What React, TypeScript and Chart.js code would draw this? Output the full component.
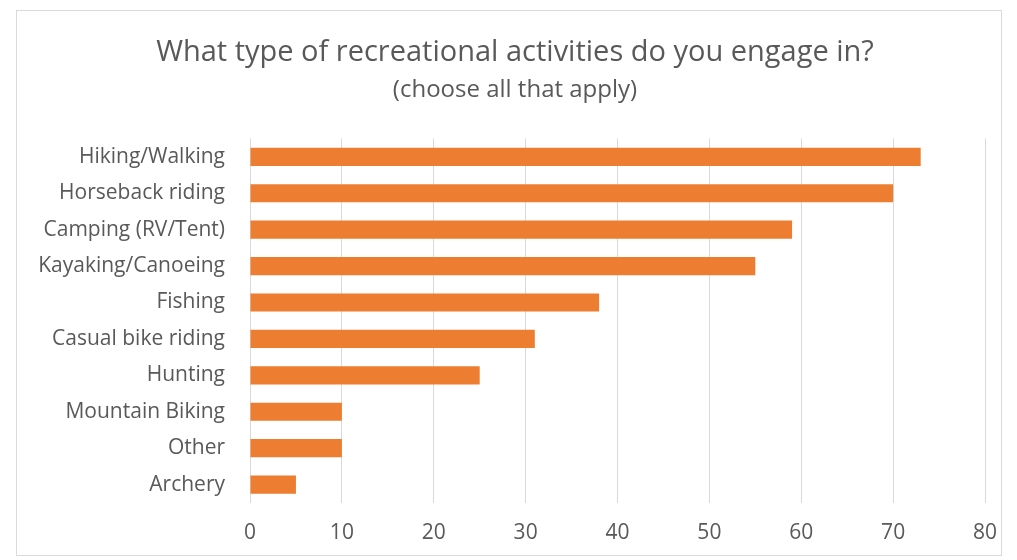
import React, { useEffect, useRef } from "react";
import { Chart, registerables } from "chart.js";

Chart.register(...registerables);

const categories = [
  "Hiking/Walking",
  "Horseback riding",
  "Camping (RV/Tent)",
  "Kayaking/Canoeing",
  "Fishing",
  "Casual bike riding",
  "Hunting",
  "Mountain Biking",
  "Other",
  "Archery",
];
const values = [73, 70, 59, 55, 38, 31, 25, 10, 10, 5];
const titleText = "What type of recreational activities do you engage in?";
const subtitleText = "(choose all that apply)";

const FONT = "'Open Sans', sans-serif";
const TEXT = "#595959";

export default function App() {
  const ref = useRef<HTMLCanvasElement>(null);
  useEffect(() => {
    if (!ref.current) return;
    const chart = new Chart(ref.current, {
      type: "bar",
      data: {
        labels: categories,
        datasets: [
          {
            data: values,
            backgroundColor: "#ED7D31",
            borderWidth: 0,
            barPercentage: 0.5,
            categoryPercentage: 1,
          },
        ],
      },
      options: {
        indexAxis: "y",
        animation: false,
        responsive: true,
        maintainAspectRatio: false,
        layout: { padding: { top: 20, right: 0, bottom: -9, left: 12 } },
        plugins: {
          legend: { display: false },
          tooltip: { enabled: false },
          title: {
            display: true,
            text: titleText,
            color: TEXT,
            font: { family: FONT, size: 29, weight: "normal" },
            padding: { top: 4, bottom: 6 },
          },
          subtitle: {
            display: true,
            text: subtitleText,
            color: TEXT,
            font: { family: FONT, size: 24, weight: "normal" },
            padding: { top: 0, bottom: 34 },
          },
        },
        scales: {
          x: {
            min: 0,
            max: 80,
            afterFit: (scale: any) => {
              scale.paddingRight = 16;
              scale.paddingLeft = 0;
            },
            ticks: {
              stepSize: 10,
              color: TEXT,
              font: { family: FONT, size: 21 },
              padding: 18,
            },
            grid: { color: "#d9d9d9", drawTicks: false },
            border: { display: false },
          },
          y: {
            afterFit: (scale: any) => {
              scale.width = 221;
            },
            ticks: {
              color: TEXT,
              font: { family: FONT, size: 21 },
              padding: 25,
            },
            grid: { display: false, drawTicks: false },
            border: { display: false },
          },
        },
      },
    });
    return () => chart.destroy();
  }, []);
  return (
    <div
      style={{
        marginLeft: 8,
        marginTop: 2,
        width: 984,
        height: 544,
        border: "1px solid #d9d9d9",
        background: "#fff",
      }}
    >
      <div style={{ position: "relative", width: 984, height: 544 }}>
        <canvas ref={ref} />
      </div>
    </div>
  );
}
